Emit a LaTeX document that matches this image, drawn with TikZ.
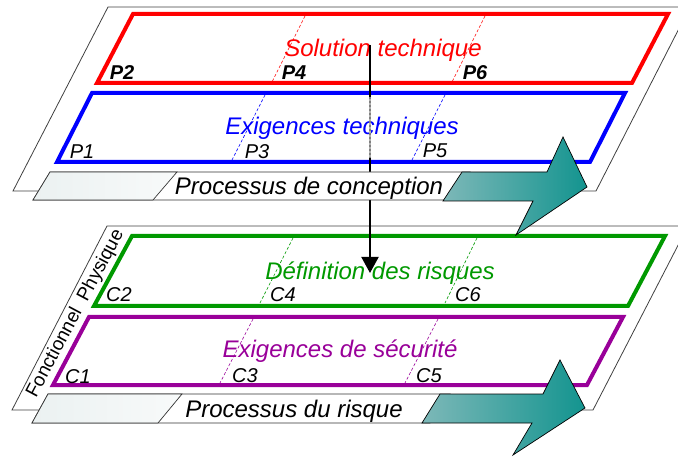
\documentclass[tikz,border=0pt]{standalone}
\usepackage{fontspec}
\setmainfont{Liberation Sans}
\usetikzlibrary{arrows.meta}
\definecolor{solred}{HTML}{FF0000}
\definecolor{exblue}{HTML}{0000FF}
\definecolor{riskgreen}{HTML}{009900}
\definecolor{safepurple}{HTML}{990099}
\definecolor{teallight}{HTML}{7DB8B8}
\definecolor{tealdark}{HTML}{13948F}
\definecolor{fadegray}{HTML}{EBF1F1}

\begin{document}
\begin{tikzpicture}[
  x=1pt, y=-1pt,
  plane/.style={draw=black!75, line width=0.8pt, fill=white},
  layerBox/.style={line width=4pt},
  phaseMark/.style={line width=0.6pt, dash pattern=on 3pt off 2pt},
  layerTitle/.style={font=\fontsize{24}{28}\selectfont\itshape, anchor=base, inner sep=0pt},
  stepLabel/.style={font=\fontsize{20}{24}\selectfont\itshape, anchor=base, inner sep=0pt},
  stepBold/.style={stepLabel, font=\fontsize{20}{24}\selectfont\itshape\bfseries},
  sideLabel/.style={font=\fontsize{19}{22}\selectfont, anchor=base, inner sep=0pt, rotate=62},
  processBar/.style={draw=black!80, line width=0.7pt, fill=white},
  barFade/.style={draw=black!80, line width=0.7pt, left color=fadegray, right color=fadegray!35},
  bigArrow/.style={draw=black, line width=0.7pt, left color=teallight, right color=tealdark},
  flow/.style={-{Triangle[width=17pt,length=16pt]}, line width=2pt}
]
\useasboundingbox (0,0) rectangle (678,457);
\clip (0,0) rectangle (678,457);

% Planes
\draw[plane] (108,7) -- (690,7) -- (596,191) -- (13,191) -- cycle;
\draw[plane] (107,226) -- (688,226) -- (593,410) -- (12,410) -- cycle;

% Upper plane: conception
\draw[layerBox, solred] (133,14) -- (668,14) -- (632,83) -- (97,83) -- cycle;
\draw[layerBox, exblue] (92,93) -- (625,93) -- (590,162) -- (57,162) -- cycle;
\draw[phaseMark, solred] (305,16) -- (272,82);
\draw[phaseMark, solred] (485,16) -- (452,82);
\draw[phaseMark, exblue] (265,95) -- (232,160);
\draw[phaseMark, exblue] (445,95) -- (412,160);

\node[layerTitle, solred] (solution) at (383,57) {Solution technique};
\node[layerTitle, exblue] (techreq) at (342,135) {Exigences techniques};
\node[stepBold] (p2) at (122,80) {P2};
\node[stepBold] (p4) at (294,80) {P4};
\node[stepBold] (p6) at (475,80) {P6};
\node[stepLabel] (p1) at (82,159) {P1};
\node[stepLabel] (p3) at (257,159) {P3};
\node[stepLabel] (p5) at (435,158) {P5};

% Lower plane: risk
\draw[layerBox, riskgreen] (132,236) -- (665,236) -- (628,306) -- (94,306) -- cycle;
\draw[layerBox, safepurple] (89,317) -- (623,317) -- (587,385) -- (53,385) -- cycle;
\draw[phaseMark, riskgreen] (293,238) -- (260,303);
\draw[phaseMark, riskgreen] (477,238) -- (445,303);
\draw[phaseMark, safepurple] (253,319) -- (220,383);
\draw[phaseMark, safepurple] (438,319) -- (405,383);

\node[layerTitle, riskgreen] (riskdef) at (380,280) {Définition des risques};
\node[layerTitle, safepurple] (safereq) at (340,358) {Exigences de sécurité};
\node[stepLabel] (c2) at (119,302) {C2};
\node[stepLabel] (c4) at (283,302) {C4};
\node[stepLabel] (c6) at (468,302) {C6};
\node[stepLabel] (c1) at (78,383) {C1};
\node[stepLabel] (c3) at (245,382) {C3};
\node[stepLabel] (c5) at (429,382) {C5};
\node[sideLabel] (sidetext) at (80,316) {Fonctionnel\ \ Physique};

% Link between planes
\coordinate (flowStart) at (370,45);
\coordinate (flowEnd) at (370,273);
\coordinate (dimTop) at (370,97);
\coordinate (dimBot) at (370,158);
\draw[flow] (flowStart) -- (flowEnd);
\draw[line width=2pt, gray!60] (dimTop) -- (dimBot);
\draw[line width=2pt, black!50, dotted] (dimTop) -- (dimBot);

% Process bars
\draw[processBar] (50,172) -- (470,172) -- (450,200) -- (33,200) -- cycle;
\draw[barFade] (50,172) -- (177,172) -- (153,200) -- (33,200) -- cycle;
\node[layerTitle, black] (conception) at (309,195) {Processus de conception};
\draw[bigArrow] (462,172) -- (547,172) -- (563,137) -- (587,187) -- (516,235) -- (533,201) -- (443,201) -- cycle;

\draw[processBar] (48,394) -- (450,394) -- (430,423) -- (32,423) -- cycle;
\draw[barFade] (48,394) -- (182,394) -- (158,423) -- (32,423) -- cycle;
\node[layerTitle, black] (riskproc) at (294,417) {Processus du risque};
\draw[bigArrow] (440,394) -- (543,394) -- (560,360) -- (585,408) -- (513,455) -- (532,423) -- (422,423) -- cycle;

\end{tikzpicture}
\end{document}
